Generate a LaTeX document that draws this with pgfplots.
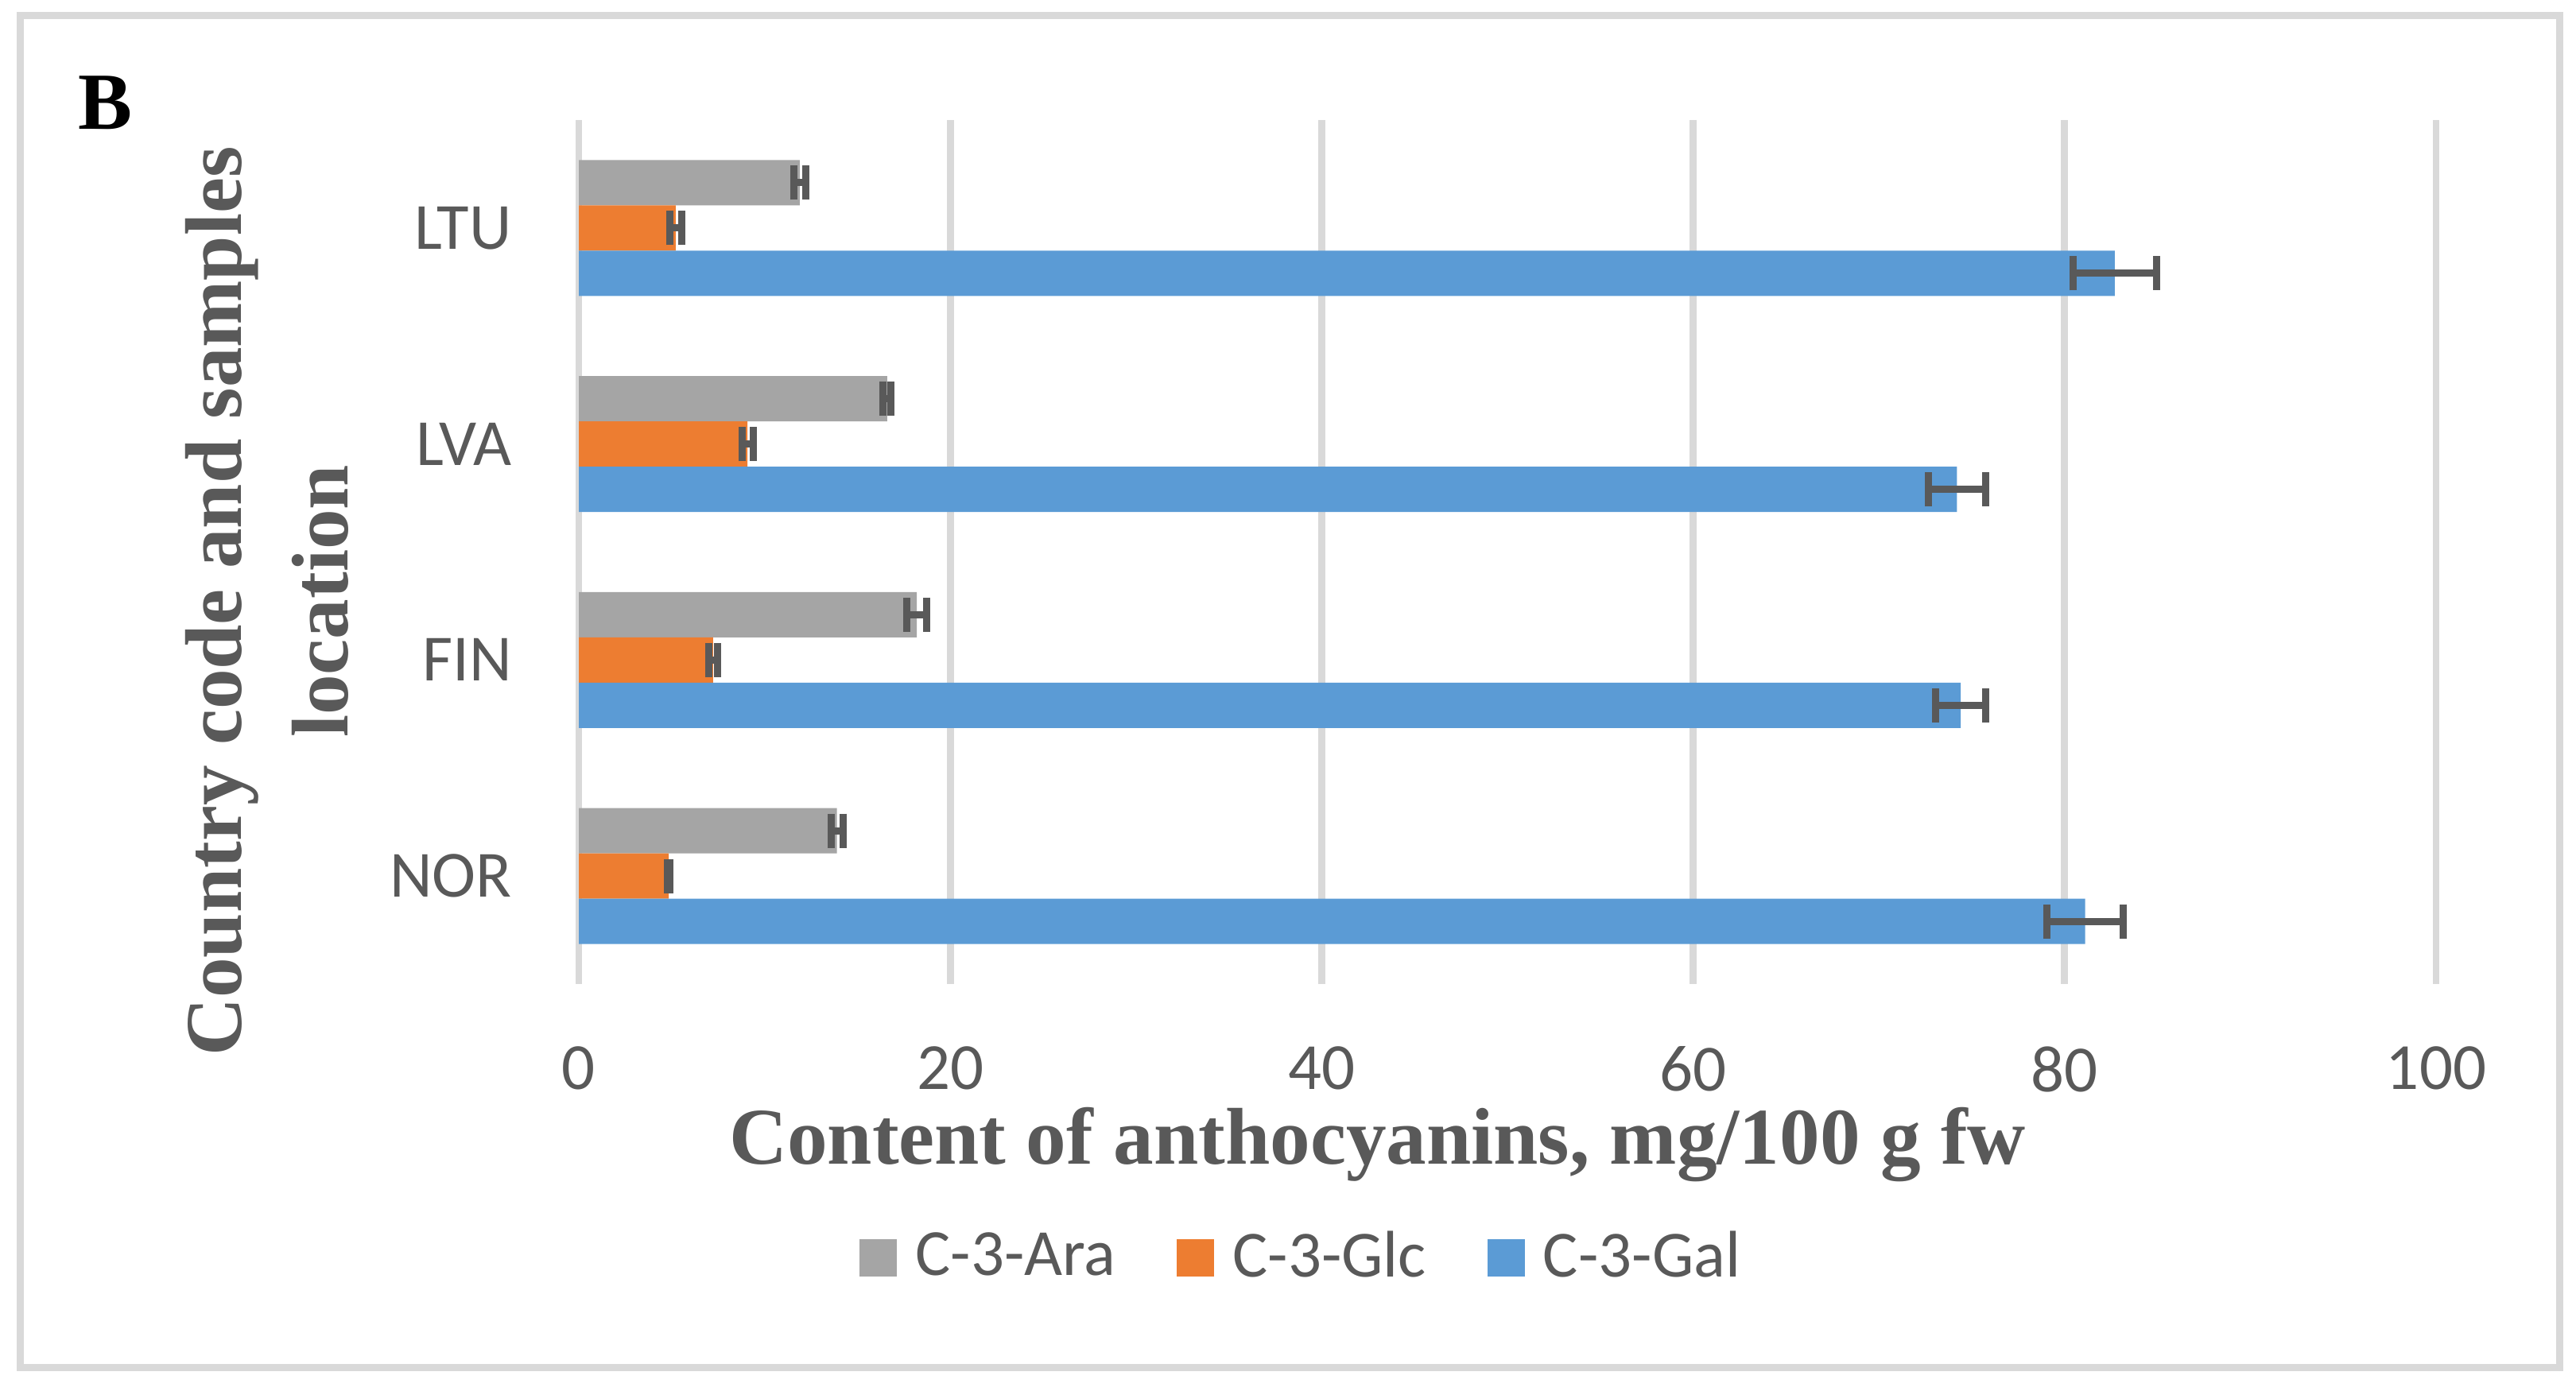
\documentclass[border=0pt]{standalone}
\usepackage{fontspec}
\setmainfont{Carlito}
\newfontfamily\titlefont{Liberation Serif}
\usepackage{pgfplots}
\usepackage{pgfplotstable}
\pgfplotsset{compat=1.18}
\definecolor{cAra}{HTML}{A5A5A5}
\definecolor{cGlc}{HTML}{ED7D31}
\definecolor{cGal}{HTML}{5B9BD5}
\definecolor{txt}{HTML}{595959}
\definecolor{gridc}{HTML}{D9D9D9}

% y: 0=NOR, 1=FIN, 2=LVA, 3=LTU
\pgfplotstableread{
y x e
0 13.9 0.32
1 18.2 0.54
2 16.6 0.21
3 11.9 0.32
}\ara
\pgfplotstableread{
y x e
0 4.84 0.05
1 7.23 0.24
2 9.08 0.30
3 5.22 0.32
}\glc
\pgfplotstableread{
y x e
0 81.1 2.04
1 74.4 1.33
2 74.2 1.55
3 82.7 2.25
}\gal

\begin{document}
\begin{tikzpicture}
\useasboundingbox (0,0) rectangle (16.2cm,8.75cm);
\draw[gridc, line width=0.045cm] (0.125cm,0.145cm) rectangle (16.095cm,8.65cm);
\node[anchor=base west, inner sep=0pt, font=\titlefont\bfseries\fontsize{14.5pt}{17pt}\selectfont] at (0.485cm,7.935cm) {B};
\begin{axis}[
  at={(3.64cm,2.56cm)}, anchor=south west,
  scale only axis, width=11.68cm, height=5.435cm,
  xmin=0, xmax=100, ymin=-0.5, ymax=3.5,
  xtick={0,20,...,100}, ytick={0,1,2,3}, yticklabels={NOR,FIN,LVA,LTU},
  xmajorgrids, grid style={gridc, line width=1.25pt},
  axis line style={draw=none}, major tick length=0pt,
  tick label style={font=\fontsize{11.8pt}{14pt}\selectfont, text=txt, inner sep=0pt},
  /pgf/number format/assume math mode=true,
  xticklabel style={anchor=north, yshift=-0.385cm},
  yticklabel style={anchor=east, xshift=-0.415cm},
  xlabel={Content of anthocyanins, mg/100 g fw},
  xlabel style={at={(axis description cs:0.430,-0.208)}, anchor=base, font=\titlefont\bfseries\fontsize{14.4pt}{17pt}\selectfont, text=txt, inner sep=0pt},
  ylabel={Country code and samples\\location},
  ylabel style={at={(axis description cs:-0.168,0.443)}, anchor=center, align=center, font=\titlefont\bfseries\fontsize{14.4pt}{0.67cm}\selectfont, text=txt, inner sep=0pt},
  xbar, bar width=0.21,
  legend columns=3,
  legend cell align=left,
  legend style={at={(axis description cs:0.1417,-0.317)}, anchor=west, draw=none, fill=none,
    font=\fontsize{11.8pt}{14pt}\selectfont, text=txt, nodes={inner sep=0pt},
    /tikz/every odd column/.append style={column sep=0.115cm},
    /tikz/every even column/.append style={column sep=0.385cm}},
]
\addplot[fill=cAra, draw=none, bar shift=0.21,
  legend image code/.code={\fill[cAra] (0cm,-0.1175cm) rectangle (0.235cm,0.1175cm);},
  error bars/.cd, x dir=both, x explicit,
  error bar style={draw=txt, solid, line width=0.045cm},
  error mark options={draw=txt, solid, line width=0.045cm, mark size=0.1075cm, rotate=90}]
  table[x=x, y=y, x error=e]{\ara};
\addlegendentry{C-3-Ara}
\addplot[fill=cGlc, draw=none, bar shift=0,
  legend image code/.code={\fill[cGlc] (0cm,-0.1175cm) rectangle (0.235cm,0.1175cm);},
  error bars/.cd, x dir=both, x explicit,
  error bar style={draw=txt, solid, line width=0.045cm},
  error mark options={draw=txt, solid, line width=0.045cm, mark size=0.1075cm, rotate=90}]
  table[x=x, y=y, x error=e]{\glc};
\addlegendentry{C-3-Glc}
\addplot[fill=cGal, draw=none, bar shift=-0.21,
  legend image code/.code={\fill[cGal] (0cm,-0.1175cm) rectangle (0.235cm,0.1175cm);},
  error bars/.cd, x dir=both, x explicit,
  error bar style={draw=txt, solid, line width=0.045cm},
  error mark options={draw=txt, solid, line width=0.045cm, mark size=0.1075cm, rotate=90}]
  table[x=x, y=y, x error=e]{\gal};
\addlegendentry{C-3-Gal}
\end{axis}
\end{tikzpicture}
\end{document}
